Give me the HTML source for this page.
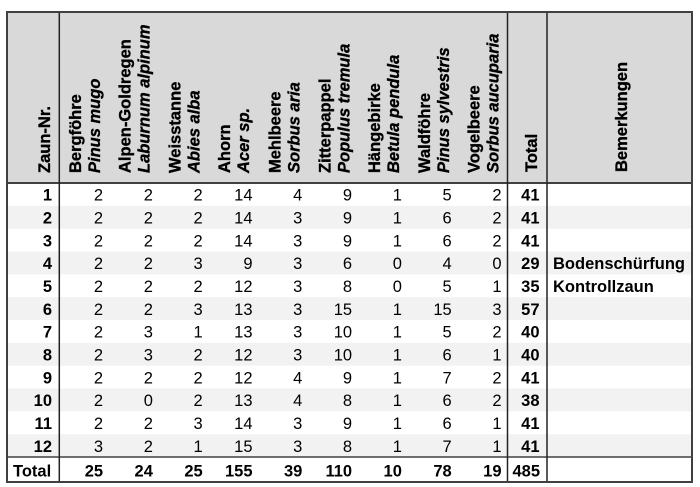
<!DOCTYPE html>
<html>
<head>
<meta charset="utf-8">
<style>
  html, body { margin: 0; padding: 0; background: #ffffff; }
  svg { display: block; }
  text { font-family: "Liberation Sans", Arial, sans-serif; font-size: 16.5px; fill: #000; }
  .b { font-weight: bold; }
  .bi { font-weight: bold; font-style: italic; }
  .r { text-anchor: end; }
  .h { font-weight: 700; stroke: #000; stroke-width: 0.35px; }
</style>
</head>
<body>
<svg width="700" height="487" viewBox="0 0 700 487" xmlns="http://www.w3.org/2000/svg">
  <rect x="0" y="0" width="700" height="487" fill="#ffffff"/>
  <!-- header background -->
  <rect x="7" y="12" width="685" height="171" fill="#d9d9d9"/>
  <!-- shaded rows -->
  <rect x="7" y="205.83" width="685" height="22.83" fill="#f2f2f2"/>
  <rect x="7" y="251.5" width="685" height="22.83" fill="#f2f2f2"/>
  <rect x="7" y="297.17" width="685" height="22.83" fill="#f2f2f2"/>
  <rect x="7" y="342.83" width="685" height="22.83" fill="#f2f2f2"/>
  <rect x="7" y="388.5" width="685" height="22.83" fill="#f2f2f2"/>
  <rect x="7" y="434.17" width="685" height="22.83" fill="#f2f2f2"/>

  <!-- lines -->
  <line x1="7" y1="183" x2="692" y2="183" stroke="#404040" stroke-width="2"/>
  <line x1="7" y1="457" x2="692" y2="457" stroke="#404040" stroke-width="1.5"/>
  <line x1="59.3" y1="12" x2="59.3" y2="482" stroke="#222" stroke-width="1.5"/>
  <line x1="507.5" y1="12" x2="507.5" y2="482" stroke="#222" stroke-width="1.5"/>
  <line x1="547" y1="12" x2="547" y2="482" stroke="#222" stroke-width="1.5"/>
  <rect x="7" y="12" width="685" height="470" fill="none" stroke="#404040" stroke-width="2"/>

  <!-- header labels -->
  <g font-weight="bold">
  <text class="h" style="font-weight:bold" transform="translate(50,173) rotate(-90)">Zaun-Nr.</text>

  <text class="h" style="font-weight:bold" transform="translate(80.8,173) rotate(-90)">Bergföhre</text>
  <text class="h" style="font-weight:bold;font-style:italic" transform="translate(99.8,173) rotate(-90)">Pinus mugo</text>

  <text class="h" style="font-weight:bold" transform="translate(130.6,173) rotate(-90)">Alpen-Goldregen</text>
  <text class="h" style="font-weight:bold;font-style:italic" transform="translate(149.6,173) rotate(-90)">Laburnum alpinum</text>

  <text class="h" style="font-weight:bold" transform="translate(180.4,173) rotate(-90)">Weisstanne</text>
  <text class="h" style="font-weight:bold;font-style:italic" transform="translate(199.4,173) rotate(-90)">Abies alba</text>

  <text class="h" style="font-weight:bold" transform="translate(230.2,173) rotate(-90)">Ahorn</text>
  <text class="h" style="font-weight:bold;font-style:italic" transform="translate(249.2,173) rotate(-90)">Acer sp.</text>

  <text class="h" style="font-weight:bold" transform="translate(280.5,173) rotate(-90)">Mehlbeere</text>
  <text class="h" style="font-weight:bold;font-style:italic" transform="translate(299.5,173) rotate(-90)">Sorbus aria</text>

  <text class="h" style="font-weight:bold" transform="translate(330.3,173) rotate(-90)">Zitterpappel</text>
  <text class="h" style="font-weight:bold;font-style:italic" transform="translate(349.3,173) rotate(-90)">Populus tremula</text>

  <text class="h" style="font-weight:bold" transform="translate(380.1,173) rotate(-90)">Hängebirke</text>
  <text class="h" style="font-weight:bold;font-style:italic" transform="translate(399.1,173) rotate(-90)">Betula pendula</text>

  <text class="h" style="font-weight:bold" transform="translate(429.9,173) rotate(-90)">Waldföhre</text>
  <text class="h" style="font-weight:bold;font-style:italic" transform="translate(448.9,173) rotate(-90)">Pinus sylvestris</text>

  <text class="h" style="font-weight:bold" transform="translate(479.7,173) rotate(-90)">Vogelbeere</text>
  <text class="h" style="font-weight:bold;font-style:italic" transform="translate(498.7,173) rotate(-90)">Sorbus aucuparia</text>

  <text class="h" style="font-weight:bold" transform="translate(537,172) rotate(-90)">Total</text>
  <text class="h" style="font-weight:bold" transform="translate(627,172) rotate(-90)">Bemerkungen</text>
  </g>

  <!-- row 1 -->
  <g transform="translate(0,200.7)">
    <text class="b r" x="52">1</text>
    <text class="r" x="103.1">2</text><text class="r" x="152.9">2</text><text class="r" x="202.7">2</text>
    <text class="r" x="252.5">14</text><text class="r" x="302.3">4</text><text class="r" x="352.1">9</text>
    <text class="r" x="401.9">1</text><text class="r" x="451.7">5</text><text class="r" x="501.5">2</text>
    <text class="b r" x="539.5">41</text>
  </g>
  <!-- row 2 -->
  <g transform="translate(0,223.53)">
    <text class="b r" x="52">2</text>
    <text class="r" x="103.1">2</text><text class="r" x="152.9">2</text><text class="r" x="202.7">2</text>
    <text class="r" x="252.5">14</text><text class="r" x="302.3">3</text><text class="r" x="352.1">9</text>
    <text class="r" x="401.9">1</text><text class="r" x="451.7">6</text><text class="r" x="501.5">2</text>
    <text class="b r" x="539.5">41</text>
  </g>
  <!-- row 3 -->
  <g transform="translate(0,246.36)">
    <text class="b r" x="52">3</text>
    <text class="r" x="103.1">2</text><text class="r" x="152.9">2</text><text class="r" x="202.7">2</text>
    <text class="r" x="252.5">14</text><text class="r" x="302.3">3</text><text class="r" x="352.1">9</text>
    <text class="r" x="401.9">1</text><text class="r" x="451.7">6</text><text class="r" x="501.5">2</text>
    <text class="b r" x="539.5">41</text>
  </g>
  <!-- row 4 -->
  <g transform="translate(0,269.2)">
    <text class="b r" x="52">4</text>
    <text class="r" x="103.1">2</text><text class="r" x="152.9">2</text><text class="r" x="202.7">3</text>
    <text class="r" x="252.5">9</text><text class="r" x="302.3">3</text><text class="r" x="352.1">6</text>
    <text class="r" x="401.9">0</text><text class="r" x="451.7">4</text><text class="r" x="501.5">0</text>
    <text class="b r" x="539.5">29</text>
    <text class="b" x="553">Bodenschürfung</text>
  </g>
  <!-- row 5 -->
  <g transform="translate(0,292.03)">
    <text class="b r" x="52">5</text>
    <text class="r" x="103.1">2</text><text class="r" x="152.9">2</text><text class="r" x="202.7">2</text>
    <text class="r" x="252.5">12</text><text class="r" x="302.3">3</text><text class="r" x="352.1">8</text>
    <text class="r" x="401.9">0</text><text class="r" x="451.7">5</text><text class="r" x="501.5">1</text>
    <text class="b r" x="539.5">35</text>
    <text class="b" x="553">Kontrollzaun</text>
  </g>
  <!-- row 6 -->
  <g transform="translate(0,314.86)">
    <text class="b r" x="52">6</text>
    <text class="r" x="103.1">2</text><text class="r" x="152.9">2</text><text class="r" x="202.7">3</text>
    <text class="r" x="252.5">13</text><text class="r" x="302.3">3</text><text class="r" x="352.1">15</text>
    <text class="r" x="401.9">1</text><text class="r" x="451.7">15</text><text class="r" x="501.5">3</text>
    <text class="b r" x="539.5">57</text>
  </g>
  <!-- row 7 -->
  <g transform="translate(0,337.7)">
    <text class="b r" x="52">7</text>
    <text class="r" x="103.1">2</text><text class="r" x="152.9">3</text><text class="r" x="202.7">1</text>
    <text class="r" x="252.5">13</text><text class="r" x="302.3">3</text><text class="r" x="352.1">10</text>
    <text class="r" x="401.9">1</text><text class="r" x="451.7">5</text><text class="r" x="501.5">2</text>
    <text class="b r" x="539.5">40</text>
  </g>
  <!-- row 8 -->
  <g transform="translate(0,360.53)">
    <text class="b r" x="52">8</text>
    <text class="r" x="103.1">2</text><text class="r" x="152.9">3</text><text class="r" x="202.7">2</text>
    <text class="r" x="252.5">12</text><text class="r" x="302.3">3</text><text class="r" x="352.1">10</text>
    <text class="r" x="401.9">1</text><text class="r" x="451.7">6</text><text class="r" x="501.5">1</text>
    <text class="b r" x="539.5">40</text>
  </g>
  <!-- row 9 -->
  <g transform="translate(0,383.36)">
    <text class="b r" x="52">9</text>
    <text class="r" x="103.1">2</text><text class="r" x="152.9">2</text><text class="r" x="202.7">2</text>
    <text class="r" x="252.5">12</text><text class="r" x="302.3">4</text><text class="r" x="352.1">9</text>
    <text class="r" x="401.9">1</text><text class="r" x="451.7">7</text><text class="r" x="501.5">2</text>
    <text class="b r" x="539.5">41</text>
  </g>
  <!-- row 10 -->
  <g transform="translate(0,406.2)">
    <text class="b r" x="52">10</text>
    <text class="r" x="103.1">2</text><text class="r" x="152.9">0</text><text class="r" x="202.7">2</text>
    <text class="r" x="252.5">13</text><text class="r" x="302.3">4</text><text class="r" x="352.1">8</text>
    <text class="r" x="401.9">1</text><text class="r" x="451.7">6</text><text class="r" x="501.5">2</text>
    <text class="b r" x="539.5">38</text>
  </g>
  <!-- row 11 -->
  <g transform="translate(0,429.03)">
    <text class="b r" x="52">11</text>
    <text class="r" x="103.1">2</text><text class="r" x="152.9">2</text><text class="r" x="202.7">3</text>
    <text class="r" x="252.5">14</text><text class="r" x="302.3">3</text><text class="r" x="352.1">9</text>
    <text class="r" x="401.9">1</text><text class="r" x="451.7">6</text><text class="r" x="501.5">1</text>
    <text class="b r" x="539.5">41</text>
  </g>
  <!-- row 12 -->
  <g transform="translate(0,451.86)">
    <text class="b r" x="52">12</text>
    <text class="r" x="103.1">3</text><text class="r" x="152.9">2</text><text class="r" x="202.7">1</text>
    <text class="r" x="252.5">15</text><text class="r" x="302.3">3</text><text class="r" x="352.1">8</text>
    <text class="r" x="401.9">1</text><text class="r" x="451.7">7</text><text class="r" x="501.5">1</text>
    <text class="b r" x="539.5">41</text>
  </g>
  <!-- total row -->
  <g transform="translate(0,476.3)">
    <text class="b" x="13">Total</text>
    <text class="b r" x="103.1">25</text><text class="b r" x="152.9">24</text><text class="b r" x="202.7">25</text>
    <text class="b r" x="252.5">155</text><text class="b r" x="302.3">39</text><text class="b r" x="352.1">110</text>
    <text class="b r" x="401.9">10</text><text class="b r" x="451.7">78</text><text class="b r" x="501.5">19</text>
    <text class="b r" x="540">485</text>
  </g>
</svg>
</body>
</html>
